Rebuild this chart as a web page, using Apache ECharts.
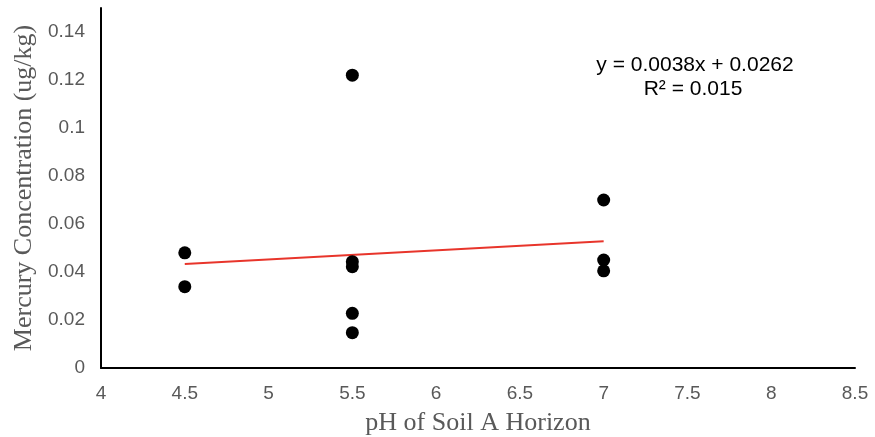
<!DOCTYPE html>
<html>
<head>
<meta charset="utf-8">
<script src="https://cdn.jsdelivr.net/npm/echarts@6/dist/echarts.min.js"></script>
<style>
  html, body { margin: 0; padding: 0; background: #fff; }
  #main { width: 875px; height: 437px; }
</style>
</head>
<body>
<div id="main"></div>
<script>
// pH readings and mercury values
var phValues = [4.5, 4.5, 5.5, 5.5, 5.5, 5.5, 5.5, 7, 7, 7];
var mercuryValues = [0.048, 0.0339, 0.122, 0.0443, 0.0422, 0.0228, 0.0147, 0.070, 0.045, 0.0405];

// linear trendline end points (y = 0.0038x + 0.0262)
var trendX = [4.5, 7];
var trendY = [0.0433, 0.0528];

var equationText = 'y = 0.0038x + 0.0262';
var r2Text = 'R² = 0.015';

var pointData = phValues.map(function (x, i) { return [x, mercuryValues[i]]; });
var trendData = trendX.map(function (x, i) { return [x, trendY[i]]; });

var chart = echarts.init(document.getElementById('main'));

var labelStyle = {
  color: '#595959',
  fontFamily: 'Liberation Sans, Arial, sans-serif',
  fontSize: 19
};
var titleStyle = {
  color: '#595959',
  fontFamily: 'Liberation Serif, Times New Roman, serif',
  fontSize: 26
};

chart.setOption({
  animation: false,
  grid: { left: 101, right: 20, top: 8, bottom: 69, outerBoundsMode: 'none' },
  xAxis: {
    type: 'value',
    min: 4,
    max: 8.5,
    interval: 0.5,
    name: 'pH of Soil A Horizon',
    nameLocation: 'middle',
    nameGap: 42,
    nameTextStyle: titleStyle,
    axisLine: { show: true, lineStyle: { color: '#000', width: 2 } },
    axisTick: { show: false },
    splitLine: { show: false },
    axisLabel: Object.assign({ margin: 16 }, labelStyle)
  },
  yAxis: {
    type: 'value',
    min: 0,
    max: 0.15,
    interval: 0.02,
    name: 'Mercury Concentration (ug/kg)',
    nameLocation: 'middle',
    nameGap: 64,
    nameTextStyle: titleStyle,
    axisLine: { show: true, lineStyle: { color: '#000', width: 2 } },
    axisTick: { show: false },
    splitLine: { show: false },
    axisLabel: Object.assign({ margin: 16, showMaxLabel: false }, labelStyle)
  },
  series: [
    {
      type: 'line',
      data: trendData,
      symbol: 'none',
      lineStyle: { color: '#e8352b', width: 2 },
      z: 2
    },
    {
      type: 'scatter',
      data: pointData,
      symbol: 'circle',
      symbolSize: 13,
      itemStyle: { color: '#000', opacity: 1 },
      z: 3
    }
  ],
  graphic: [
    {
      type: 'text',
      x: 695,
      y: 65,
      style: {
        text: equationText,
        fill: '#000',
        align: 'center',
        verticalAlign: 'middle',
        font: '21px Liberation Sans, Arial, sans-serif'
      }
    },
    {
      type: 'text',
      x: 693,
      y: 89,
      style: {
        text: r2Text,
        fill: '#000',
        align: 'center',
        verticalAlign: 'middle',
        font: '21px Liberation Sans, Arial, sans-serif'
      }
    }
  ]
});
</script>
</body>
</html>
